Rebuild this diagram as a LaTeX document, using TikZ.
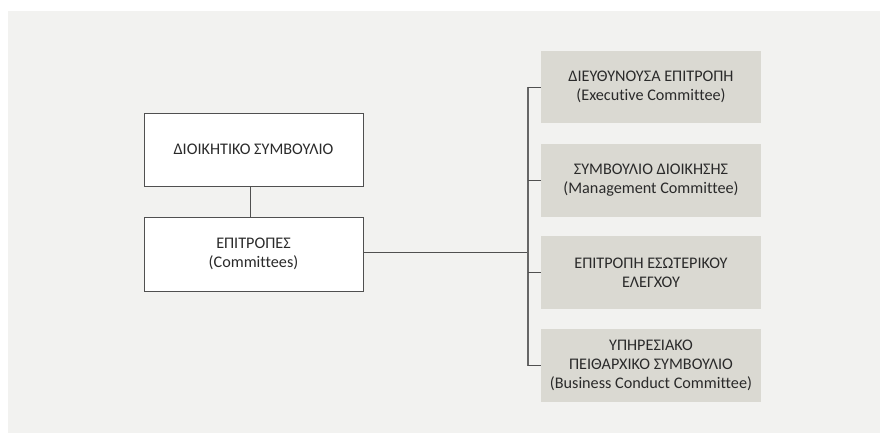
\documentclass[tikz,border=0pt]{standalone}
\usepackage{fontspec}
\setmainfont[Ligatures=CommonOff]{Carlito}
\definecolor{bgc}{HTML}{F2F2F0}
\definecolor{boxc}{HTML}{DAD9D2}
\definecolor{linec}{HTML}{505050}
\definecolor{txtc}{HTML}{2A2A2A}
\begin{document}
\begin{tikzpicture}[x=1pt,y=-1pt,
  whitebox/.style={draw=linec,line width=0.9pt,fill=white,minimum width=219pt,minimum height=73pt,inner sep=0pt,align=center,text=txtc,font=\fontsize{16.2}{19}\selectfont},
  greybox/.style={fill=boxc,minimum width=220pt,minimum height=72pt,inner sep=0pt,align=center,text=txtc,font=\fontsize{16.2}{19}\selectfont},
  conn/.style={draw=linec,line width=0.9pt},
  trunk/.style={draw=gray!80!black,line width=1.3pt}]
\useasboundingbox (0,0) rectangle (880,433);
\fill[bgc] (8,11) rectangle (880,433);
\node[whitebox] (board) at (253.5,149.5) {ΔΙΟΙΚΗΤΙΚΟ ΣΥΜΒΟΥΛΙΟ};
\node[whitebox,minimum height=74pt] (comm) at (253.5,254) {ΕΠΙΤΡΟΠΕΣ\\(Committees)};
\node[greybox] (exec) at (651,87) {ΔΙΕΥΘΥΝΟΥΣΑ ΕΠΙΤΡΟΠΗ\\(Executive Committee)};
\node[greybox,minimum height=73pt] (mgmt) at (651,180.5) {ΣΥΜΒΟΥΛΙΟ ΔΙΟΙΚΗΣΗΣ\\(Management Committee)};
\node[greybox,minimum height=73pt] (audit) at (651,272.5) {ΕΠΙΤΡΟΠΗ ΕΣΩΤΕΡΙΚΟΥ\\ΕΛΕΓΧΟΥ};
\node[greybox,minimum height=73pt] (conduct) at (651,365.5) {ΥΠΗΡΕΣΙΑΚΟ\\ΠΕΙΘΑΡΧΙΚΟ ΣΥΜΒΟΥΛΙΟ\\(Business Conduct Committee)};
\coordinate (top) at (528,87);
\coordinate (bot) at (528,365.5);
\coordinate (mid) at (528,252);
\draw[conn] (board.south -| 250,0) -- (comm.north -| 250,0);
\draw[conn] (comm.east |- mid) -- (mid);
\draw[trunk] (top) -- (bot);
\draw[conn] (top) -- (exec.west);
\draw[conn] (mgmt.west -| top) -- (mgmt.west);
\draw[conn] (audit.west -| top) -- (audit.west);
\draw[conn] (bot) -- (conduct.west);
\end{tikzpicture}
\end{document}
